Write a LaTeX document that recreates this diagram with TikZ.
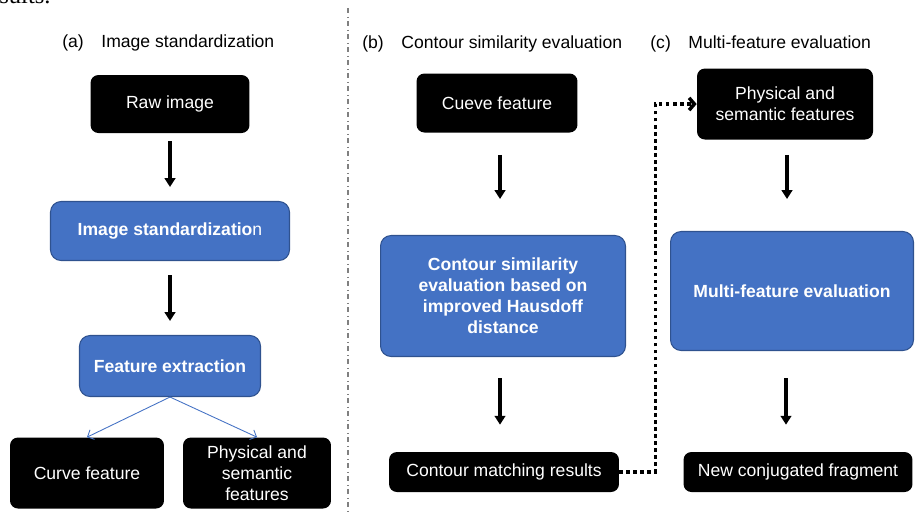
\documentclass[tikz,border=0pt]{standalone}
\usepackage{fontspec}
\setmainfont{Liberation Sans}
\newfontfamily\captionserif{Liberation Serif}
\usetikzlibrary{arrows.meta}
\definecolor{boxblue}{HTML}{4472C4}
\definecolor{boxedge}{HTML}{2F528F}
\tikzset{
    blackbox/.style={fill=black, text=white, rounded corners=4.5pt, align=center},
    bluebox/.style={fill=boxblue, draw=boxedge, line width=0.6pt, text=white,
        rounded corners=6pt, align=center, font=\bfseries},
    flow/.style={-{Triangle[length=5pt,width=6pt]}, line width=1.8pt},
    fork/.style={-{Straight Barb[length=3pt,width=6pt]}, draw=boxblue, line width=0.5pt},
    link/.style={-{Straight Barb[length=3pt,width=7pt]}, dotted, line width=2pt},
    title/.style={anchor=west, inner sep=0pt}
}
\begin{document}
\begin{tikzpicture}[x=0.02cm, y=-0.02cm]
    \clip (0,0) rectangle (918,512);
    \useasboundingbox (0,0) rectangle (918,512);
    \node[anchor=base west, inner sep=0pt, font=\captionserif\fontsize{14}{16}\selectfont] (cut) at (-1,3) {sults.};

    % dividing line
    \draw[gray, dash dot, line width=0.6pt] (348,8) -- (348,512);

    % (a)
    \node[title] (ta) at (62,43) {(a)\quad Image standardization};
    \node[blackbox, minimum width=3.18cm, minimum height=1.16cm] (raw) at (170,104) {Raw image};
    \node[bluebox, minimum width=4.78cm, minimum height=1.18cm] (std) at (170,231) {Image standardizatio\textmd{n}};
    \node[bluebox, minimum width=3.62cm, minimum height=1.22cm] (feat) at (170,366) {Feature extraction};
    \node[blackbox, minimum width=3.08cm, minimum height=1.42cm] (curve) at (87,473) {Curve feature};
    \node[blackbox, minimum width=2.96cm, minimum height=1.42cm] (phys) at (257,473) {Physical and\\semantic\\features};
    \draw[flow, shorten <=0.16cm, shorten >=0.28cm] (raw.south) -- (std.north);
    \draw[flow, shorten <=0.28cm, shorten >=0.28cm] (std.south) -- (feat.north);
    \draw[fork] (feat.south) -- (curve.north);
    \draw[fork] (feat.south) -- (phys.north);

    % (b)
    \node[title] (tb) at (362,44) {(b)\quad Contour similarity evaluation};
    \node[blackbox, minimum width=3.22cm, minimum height=1.18cm] (cueve) at (497,103) {Cueve feature};
    \node[bluebox, minimum width=4.9cm, minimum height=2.42cm] (sim) at (503,296) {Contour similarity\\evaluation based on\\improved Hausdoff\\distance};
    \node[blackbox, minimum width=4.6cm, minimum height=0.8cm] (match) at (504,472) {Contour matching results};
    \draw[flow, shorten <=0.44cm, shorten >=0.72cm] (cueve.south -| 500,0) -- (sim.north -| 500,0);
    \draw[flow, shorten <=0.42cm, shorten >=0.54cm] (sim.south -| 500,0) -- (match.north -| 500,0);

    % (c)
    \node[title] (tc) at (650,44) {(c)\quad Multi-feature evaluation};
    \node[blackbox, minimum width=3.52cm, minimum height=1.42cm] (phys2) at (785,104) {Physical and\\semantic features};
    \node[bluebox, minimum width=4.86cm, minimum height=2.38cm] (multi) at (792,291) {Multi-feature evaluation};
    \node[blackbox, minimum width=4.58cm, minimum height=0.8cm] (frag) at (798,472) {New conjugated fragment};
    \draw[flow, shorten <=0.3cm, shorten >=0.64cm] (phys2.south -| 787,0) -- (multi.north -| 787,0);
    \draw[flow, shorten <=0.54cm, shorten >=0.54cm] (multi.south -| 786,0) -- (frag.north -| 786,0);

    % link from (b) to (c)
    \draw[link] (match.east) -- ++(36,0) |- (phys2.west);
\end{tikzpicture}
\end{document}
